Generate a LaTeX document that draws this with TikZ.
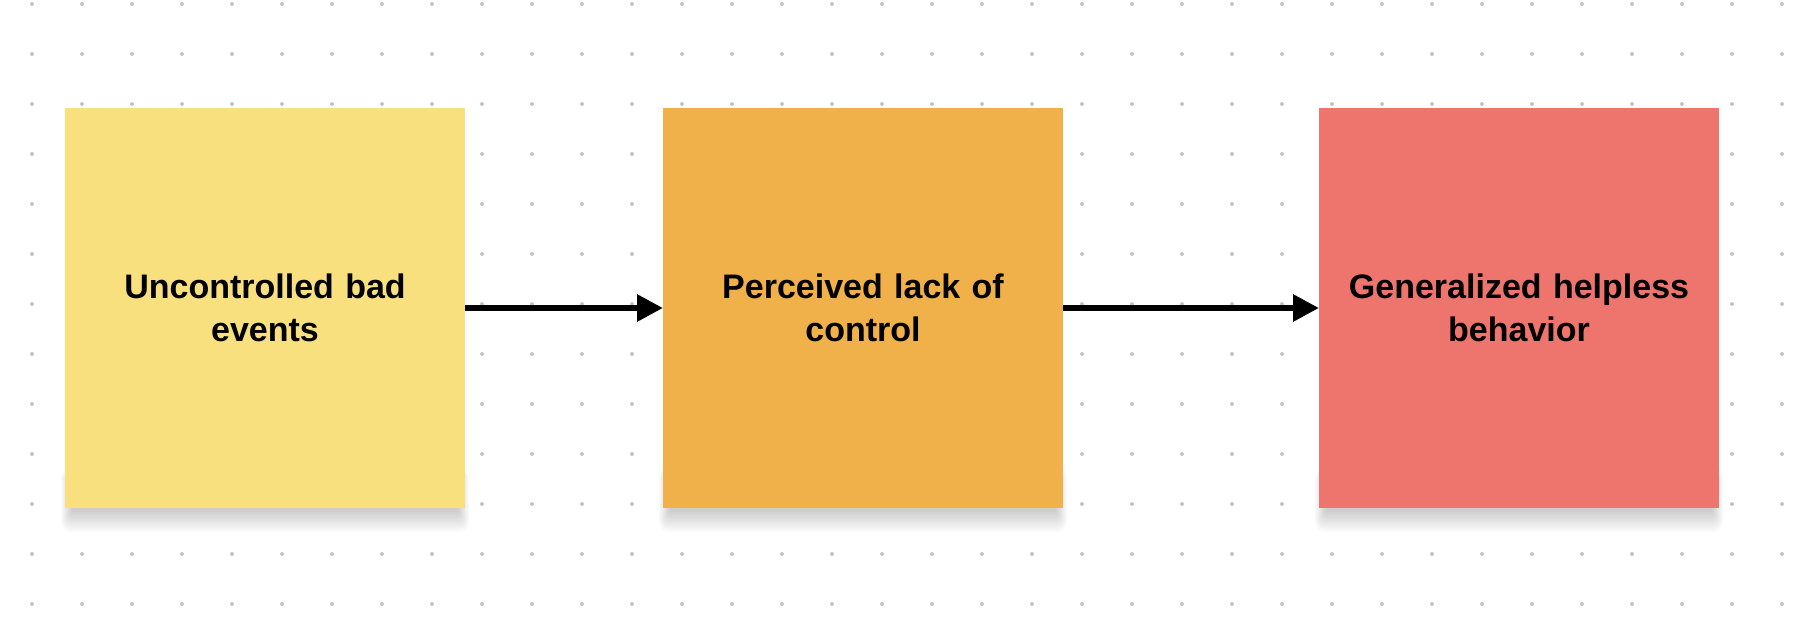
\documentclass[tikz,border=0pt]{standalone}
\usepackage{fontspec}
\setmainfont{Liberation Sans}
\usetikzlibrary{arrows.meta}
\definecolor{cyel}{HTML}{F8E07F}
\definecolor{corg}{HTML}{F0B04A}
\definecolor{cred}{HTML}{EE756D}
\definecolor{cdot}{HTML}{C4C4C4}
\tikzset{
  sticky/.style={minimum width=400pt, minimum height=400pt, inner sep=0pt, outer sep=0pt,
    align=center, text width=380pt, font=\fontsize{34pt}{43pt}\selectfont\bfseries},
  conn/.style={line width=6pt, -{Triangle[length=26pt,width=26pt]}},
  shadowlayer/.style={fill=black, fill opacity=0.018}
}
\newcommand{\stickyshadow}[2]{%
  \foreach \k in {1,...,10}{
    \fill[shadowlayer, rounded corners=\k pt] (#1-200+8-\k*1.2, #2+170-\k) rectangle (#1+200-8+\k*1.2, #2+200+2+\k*2.2);
  }}
\begin{document}
\begin{tikzpicture}[x=1pt,y=-1pt]
\useasboundingbox (0,0) rectangle (1798,618);
\fill[white] (0,0) rectangle (1798,618);
\foreach \i in {0,...,35}{\foreach \j in {0,...,12}{\fill[cdot] (32+50*\i,4+50*\j) circle (2pt);}}
\stickyshadow{265}{308}
\stickyshadow{863}{308}
\stickyshadow{1519}{308}
\node[sticky, fill=cyel] (a) at (265,308) {Uncontrolled bad\\events};
\node[sticky, fill=corg] (b) at (863,308) {Perceived lack of\\control};
\node[sticky, fill=cred] (c) at (1519,308) {Generalized helpless\\behavior};
\draw[conn] (a.east) -- (b.west);
\draw[conn] (b.east) -- (c.west);
\end{tikzpicture}
\end{document}
